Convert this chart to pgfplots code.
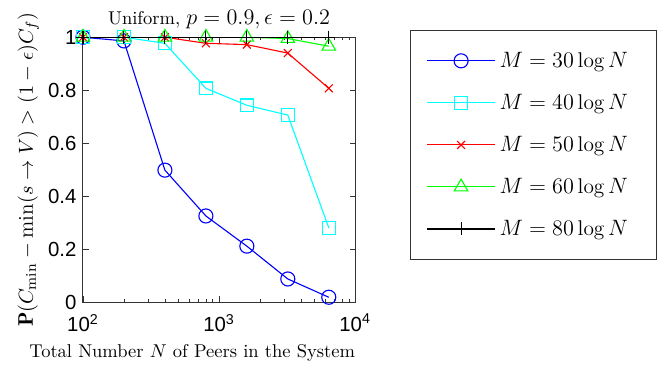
\documentclass[border=0pt]{standalone}
\usepackage{fontspec}
\newfontfamily\ticksans{Liberation Sans}
\usepackage{pgfplots}
\pgfplotsset{compat=1.18}
\definecolor{mblue}{rgb}{0,0,1}
\definecolor{mcyan}{rgb}{0,1,1}
\definecolor{mred}{rgb}{1,0,0}
\definecolor{mgreen}{rgb}{0,1,0}
\begin{document}
\begin{tikzpicture}
\begin{axis}[
  name=ax,
  scale only axis, width=147pt, height=143pt,
  xmode=log, xmin=100, xmax=10000, ymin=0, ymax=1,
  xtick={100,1000,10000},
  xticklabels={10\textsuperscript{2},10\textsuperscript{3},10\textsuperscript{4}},
  ytick={0,0.2,0.4,0.6,0.8,1},
  yticklabels={0,0.2,0.4,0.6,0.8,1},
  tick label style={font=\ticksans\fontsize{11}{13}\selectfont},
  xticklabel style={yshift=-3pt},
  tick align=inside, major tick length=3pt, minor tick length=1.6pt,
  axis line style={black!80, line width=0.5pt},
  tick style={black!80, line width=0.4pt},
  title={Uniform, {\fontsize{12.8}{14}\selectfont$p=0.9, \epsilon=0.2$}},
  title style={yshift=-5pt},
  xlabel={Total Number $N$ of Peers in the System},
  xlabel style={xshift=-14.5pt, yshift=0pt},
  ylabel={\fontsize{11.4}{13}\selectfont$\mathbf{P}(C_{\min}-\min(s\to V)>(1-\epsilon)C_f)$},
  ylabel style={yshift=-2pt},
  legend style={at={(1,1)}, anchor=north west, xshift=29.7pt, yshift=3.8pt,
    draw=black!80, font=\fontsize{11.5}{14}\selectfont, row sep=9pt, inner xsep=8.5pt, inner ysep=9.5pt},
  legend cell align=left,
  legend image code/.code={\draw[mark repeat=2,mark phase=2] plot coordinates {(0pt,0pt) (18.5pt,0pt) (37pt,0pt)};},
]
\addplot[mblue, line width=0.6pt, mark=o, mark size=3.8pt] coordinates {(100,1)(200,0.986)(400,0.498)(800,0.325)(1600,0.211)(3200,0.087)(6400,0.018)};
\addlegendentry{\makebox[74pt][l]{$M=30\log N$}}
\addplot[mcyan, line width=0.6pt, mark=square, mark size=3.4pt] coordinates {(100,1)(200,1)(400,0.977)(800,0.807)(1600,0.743)(3200,0.706)(6400,0.28)};
\addlegendentry{\makebox[74pt][l]{$M=40\log N$}}
\addplot[mred, line width=0.6pt, mark=x, mark size=3pt] coordinates {(100,1)(200,1)(400,1)(800,0.977)(1600,0.972)(3200,0.94)(6400,0.807)};
\addlegendentry{\makebox[74pt][l]{$M=50\log N$}}
\addplot[mgreen, line width=0.6pt, mark=triangle, mark size=4.2pt] coordinates {(100,1)(200,1)(400,1)(800,1)(1600,1)(3200,0.995)(6400,0.966)};
\addlegendentry{\makebox[74pt][l]{$M=60\log N$}}
\addplot[black, line width=0.6pt, mark=+, mark size=3.5pt] coordinates {(100,1)(200,1)(400,1)(800,1)(1600,1)(3200,1)(6400,1)};
\addlegendentry{\makebox[74pt][l]{$M=80\log N$}}
\end{axis}
\pgfresetboundingbox
\path ([shift={(-44.8pt,-34.6pt)}]ax.south west) rectangle ([shift={(312.7pt,163.1pt)}]ax.south west);
\end{tikzpicture}
\end{document}
